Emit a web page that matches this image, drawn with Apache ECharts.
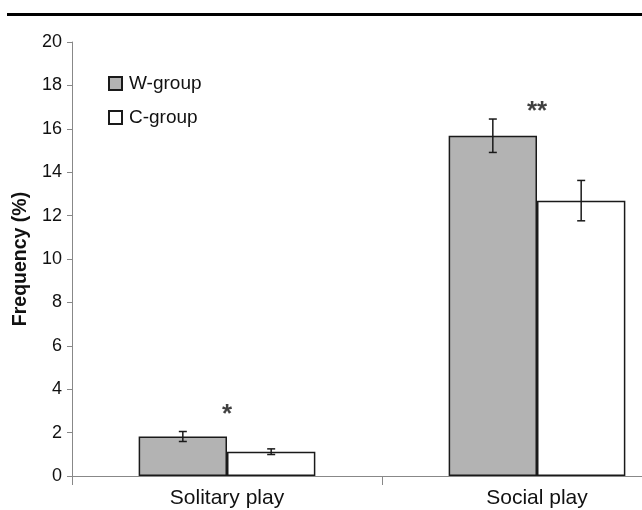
<!DOCTYPE html>
<html>
<head>
<meta charset="utf-8">
<script src="https://cdn.jsdelivr.net/npm/echarts@6/dist/echarts.min.js"></script>
<style>
  html, body { margin: 0; padding: 0; background: #fff; overflow: hidden; }
  #chart { width: 692px; height: 510px; }
</style>
</head>
<body>
<div id="chart"></div>
<script>
const categories = ['Solitary play', 'Social play']
const wGroup = [1.82, 15.68]
const wErr = [0.23, 0.77]
const cGroup = [1.12, 12.69]
const cErr = [0.13, 0.93]
const starY = [2.8, 16.8]
const starText = ['*', '**']

// the plot runs past the right edge of the picture, so the div is wider than the window
const chart = echarts.init(document.getElementById('chart'))
const FONT = 'Liberation Sans, Arial, sans-serif'
const GAP = 0.43

// error bars drawn per group, shifted to the bar centre
function errorRenderer (side, vals, errs) {
  return function (params, api) {
    const i = api.value(0)
    const v = vals[i]
    const e = errs[i]
    const bw = api.size([1, 0])[0] * (1 - GAP) / 2
    const top = api.coord([i, v + e])
    const bot = api.coord([i, v - e])
    const x = top[0] + side * bw / 2
    const style = { stroke: '#1a1a1a', lineWidth: 1.5 }
    return {
      type: 'group',
      children: [
        { type: 'line', shape: { x1: x, y1: top[1], x2: x, y2: bot[1] }, style },
        { type: 'line', shape: { x1: x - 4, y1: top[1], x2: x + 4, y2: top[1] }, style },
        { type: 'line', shape: { x1: x - 4, y1: bot[1], x2: x + 4, y2: bot[1] }, style }
      ]
    }
  }
}

const option = {
  animation: false,
  textStyle: { fontFamily: FONT },
  grid: { left: 72, top: 42, right: 0, bottom: 34 },
  legend: {
    orient: 'vertical',
    left: 108,
    top: 74,
    padding: 0,
    itemWidth: 13,
    itemHeight: 13,
    itemGap: 15,
    icon: 'rect',
    data: ['W-group', 'C-group'],
    textStyle: { fontSize: 19, color: '#111', fontFamily: FONT, padding: [0, 0, 0, 2] }
  },
  graphic: [
    { type: 'rect', left: 7, top: 13, shape: { width: 690, height: 3 }, style: { fill: '#000' } }
  ],
  xAxis: {
    type: 'category',
    data: categories,
    axisLine: { lineStyle: { color: '#888', width: 1 } },
    axisTick: { show: true, length: 9, lineStyle: { color: '#888' } },
    axisLabel: { fontSize: 21, color: '#111', margin: 12, fontFamily: FONT }
  },
  yAxis: {
    type: 'value',
    min: 0,
    max: 20,
    interval: 2,
    name: 'Frequency (%)',
    nameLocation: 'middle',
    nameGap: 37,
    nameTextStyle: { fontSize: 19.5, fontWeight: 'bold', color: '#111', fontFamily: FONT },
    axisLine: { show: true, lineStyle: { color: '#888', width: 1 } },
    axisTick: { show: true, length: 5, lineStyle: { color: '#888' } },
    splitLine: { show: false },
    axisLabel: { fontSize: 18, color: '#111', margin: 10, fontFamily: FONT }
  },
  series: [
    {
      name: 'W-group',
      type: 'bar',
      data: wGroup,
      barGap: '0%',
      barCategoryGap: (GAP * 100) + '%',
      itemStyle: { color: '#b3b3b3', borderColor: '#1a1a1a', borderWidth: 1.5 }
    },
    {
      name: 'C-group',
      type: 'bar',
      data: cGroup,
      barGap: '0%',
      barCategoryGap: (GAP * 100) + '%',
      itemStyle: { color: '#fff', borderColor: '#1a1a1a', borderWidth: 1.5 }
    },
    {
      type: 'custom',
      data: categories.map((c, i) => [i]),
      renderItem: errorRenderer(-1, wGroup, wErr),
      z: 10
    },
    {
      type: 'custom',
      data: categories.map((c, i) => [i]),
      renderItem: errorRenderer(1, cGroup, cErr),
      z: 10
    },
    {
      type: 'scatter',
      symbolSize: 0,
      data: starY.map((y, i) => [i, y]),
      label: {
        show: true,
        position: 'inside',
        formatter: p => starText[p.dataIndex],
        fontSize: 26,
        fontWeight: 'bold',
        color: '#111',
        fontFamily: FONT
      },
      z: 10
    }
  ]
}
chart.setOption(option)
</script>
</body>
</html>
